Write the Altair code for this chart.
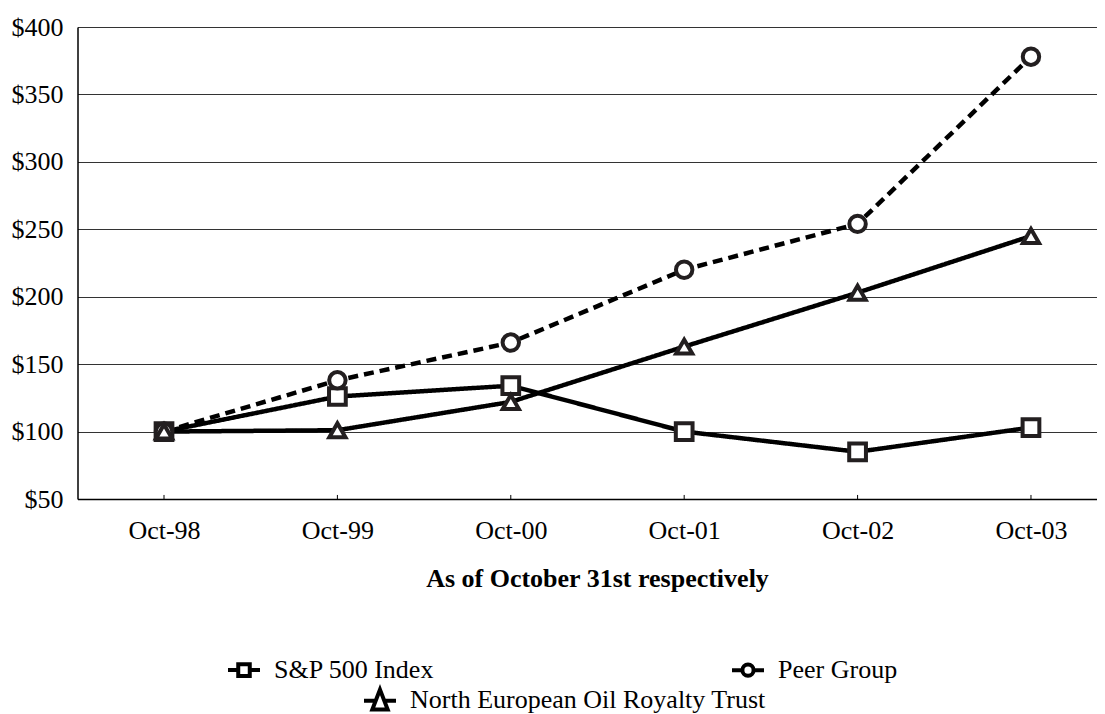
import altair as alt
import pandas as pd

categories = ["Oct-98", "Oct-99", "Oct-00", "Oct-01", "Oct-02", "Oct-03"]
series_names = ["S&P 500 Index", "Peer Group", "North European Oil Royalty Trust"]
sp500 = [100, 126, 134, 100, 85, 103]
peer = [100, 138, 166, 220, 254, 378]
neort = [100, 101, 122, 163, 203, 245]
y_ticks = [50, 100, 150, 200, 250, 300, 350, 400]

rows = []
for name, vals in zip(series_names, [sp500, peer, neort]):
    for c, v in zip(categories, vals):
        rows.append({"date": c, "series": name, "value": v})
df = pd.DataFrame(rows)
tick_df = pd.DataFrame({"date": categories})

FONT = "Liberation Serif"
INK = "#231f20"

x_enc = alt.X(
    "date:N",
    sort=categories,
    scale=alt.Scale(type="point", domain=categories, padding=0.4384, align=0.569),
    axis=alt.Axis(
        title="As of October 31st respectively",
        labelAngle=0, ticks=False, tickSize=0, labelPadding=39,
        labelBaseline="alphabetic", labelFont=FONT, labelFontSize=26,
        labelColor="black", domainColor="black", domainWidth=1.5, grid=False,
        titleFont=FONT, titleFontSize=26, titleFontWeight="bold",
        titleColor="black", titleX=519.5, titleY=87,
        titleBaseline="alphabetic", titleAlign="center",
    ),
)
y_enc = alt.Y(
    "value:Q",
    scale=alt.Scale(domain=[50, 400], nice=False, zero=False),
    axis=alt.Axis(
        values=y_ticks, labelExpr="'$' + datum.value", title=None,
        ticks=False, tickSize=0, labelPadding=14.5, labelFont=FONT,
        labelFontSize=26, labelColor="black", domainColor="black",
        domainWidth=1.5, grid=True, gridColor="#333333", gridWidth=1.2,
    ),
)

lines = alt.Chart(df).mark_line(color="black", strokeWidth=4.5).encode(
    x=x_enc, y=y_enc,
    strokeDash=alt.StrokeDash("series:N", scale=alt.Scale(domain=series_names, range=[[1, 0], [10, 6], [1, 0]]), legend=None),
    detail="series:N",
)

ticks = alt.Chart(tick_df).mark_rule(color="black", strokeWidth=1).encode(
    x=x_enc, y=alt.datum(50), y2=alt.datum(53)
)

points = alt.Chart(df).mark_point(filled=True, fill="white", stroke=INK, strokeWidth=4, opacity=1).encode(
    x=x_enc, y=y_enc,
    shape=alt.Shape("series:N", scale=alt.Scale(domain=series_names, range=["square", "circle", "triangle-up"]), legend=None),
    size=alt.Size("series:N", scale=alt.Scale(domain=series_names, range=[280, 260, 620]), legend=None),
)

PATH_SQ = "M-1,0L-0.36,0M0.36,0L1,0M-0.36,-0.36L0.36,-0.36L0.36,0.36L-0.36,0.36Z"
PATH_CI = "M-1,0L-0.35,0M0.35,0L1,0M-0.35,0A0.35,0.35,0,1,1,0.35,0A0.35,0.35,0,1,1,-0.35,0Z"
PATH_TR = "M-1,0.05L-0.27,0.05M0.27,0.05L1,0.05M0,-0.65L0.48,0.6L-0.48,0.6Z"

def legend(x, y, cols=1, colpad=0):
    return alt.Legend(
        title=None, orient="none", legendX=x, legendY=y, columns=cols,
        columnPadding=colpad, padding=0, symbolSize=1024, symbolStrokeWidth=4,
        symbolStrokeColor="black", symbolFillColor="white", labelFont=FONT,
        labelFontSize=26, labelColor="black", labelOffset=12, labelLimit=700,
    )

leg1 = alt.Chart(df).transform_filter("false").mark_point(
    filled=False, color="black", strokeWidth=4, size=1024, opacity=1
).encode(
    shape=alt.Shape("series:N", scale=alt.Scale(domain=series_names[:2], range=[PATH_SQ, PATH_CI]),
                    legend=legend(148.5, 625, 2, 289))
)
leg2 = alt.Chart(df).transform_filter("false").mark_point(
    filled=False, color="black", strokeWidth=4, size=1024, opacity=1
).encode(
    shape=alt.Shape("series:N", scale=alt.Scale(domain=series_names[2:], range=[PATH_TR]),
                    legend=legend(284.5, 655))
)

chart = alt.layer(lines, ticks, points, leg1, leg2).resolve_scale(
    shape="independent"
).properties(
    width=1019, height=472,
    padding={"left": 69.5, "top": 19, "right": 0, "bottom": 214},
    autosize="none",
    background="white",
).configure_view(stroke=None)

chart.save("out.html", embed_options={"renderer": "svg", "actions": False})
